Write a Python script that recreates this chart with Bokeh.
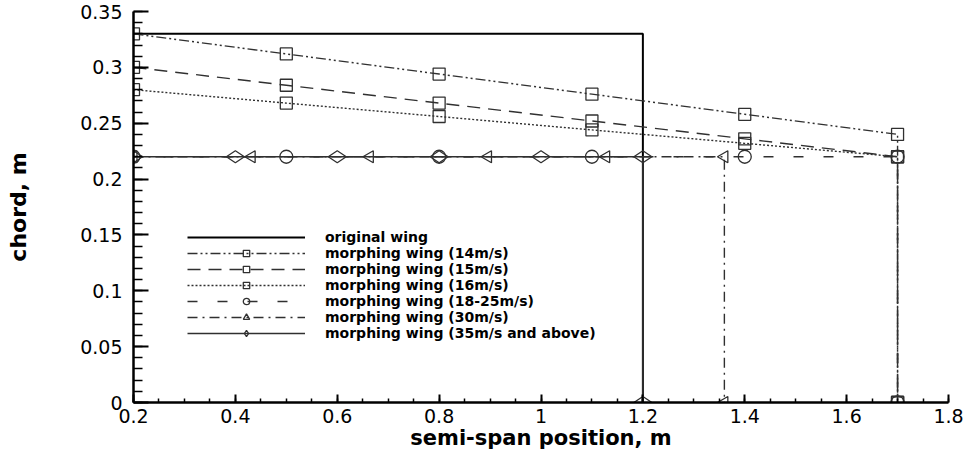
import math
from bokeh.plotting import figure
from bokeh.models import Range1d, FixedTicker, Legend, LegendItem
from bokeh.embed import file_html
from bokeh.resources import INLINE

# ---- data ----
x_orig = [0.2, 1.2, 1.2]
c_orig = [0.33, 0.33, 0.0]

x_14 = [0.2, 0.5, 0.8, 1.1, 1.4, 1.7, 1.7]
c_14 = [0.33, 0.312, 0.294, 0.276, 0.258, 0.24, 0.0]

x_15 = [0.2, 0.5, 0.8, 1.1, 1.4, 1.7, 1.7]
c_15 = [0.30, 0.284, 0.268, 0.252, 0.236, 0.22, 0.0]

x_16 = [0.2, 0.5, 0.8, 1.1, 1.4, 1.7, 1.7]
c_16 = [0.28, 0.268, 0.256, 0.244, 0.232, 0.22, 0.0]

x_18 = [0.2, 0.5, 0.8, 1.1, 1.4, 1.7, 1.7]
c_18 = [0.22, 0.22, 0.22, 0.22, 0.22, 0.22, 0.0]

x_30 = [0.2, 0.432, 0.664, 0.896, 1.128, 1.36, 1.36]
c_30 = [0.22, 0.22, 0.22, 0.22, 0.22, 0.22, 0.0]

x_35 = [0.2, 0.4, 0.6, 0.8, 1.0, 1.2, 1.2]
c_35 = [0.22, 0.22, 0.22, 0.22, 0.22, 0.22, 0.0]

labels = [
    "original wing",
    "morphing wing (14m/s)",
    "morphing wing (15m/s)",
    "morphing wing (16m/s)",
    "morphing wing (18-25m/s)",
    "morphing wing (30m/s)",
    "morphing wing (35m/s and above)",
]

x_ticks = [0.2, 0.4, 0.6, 0.8, 1.0, 1.2, 1.4, 1.6, 1.8]
x_tick_labels = ["0.2", "0.4", "0.6", "0.8", "1", "1.2", "1.4", "1.6", "1.8"]
y_ticks = [0.0, 0.05, 0.1, 0.15, 0.2, 0.25, 0.3, 0.35]
y_tick_labels = ["0", "0.05", "0.1", "0.15", "0.2", "0.25", "0.3", "0.35"]

# ---- figure ----
p = figure(width=972, height=456, output_backend="svg", toolbar_location=None,
           x_range=Range1d(0.2, 1.8), y_range=Range1d(0, 0.35),
           min_border_left=133, min_border_right=24, min_border_top=11,
           min_border_bottom=54)
p.outline_line_color = None
p.xgrid.visible = False
p.ygrid.visible = False
p.background_fill_color = "white"
p.border_fill_color = "white"

ink = "#303030"

# x axis
xa = p.xaxis[0]
xa.ticker = FixedTicker(ticks=x_ticks,
                        minor_ticks=[round(0.2 + 0.05 * i, 3) for i in range(33)])
xa.major_label_overrides = {t: l for t, l in zip(x_ticks, x_tick_labels)}
xa.axis_label = "semi-span position, m"
xa.axis_label_text_font = "DejaVu Sans"
xa.axis_label_text_font_style = "bold"
xa.axis_label_text_font_size = "21px"
xa.axis_label_text_color = "black"
xa.axis_label_standoff = 0
xa.major_label_text_font = "DejaVu Sans"
xa.major_label_text_font_size = "19px"
xa.major_label_text_color = "black"
xa.major_label_standoff = 6
xa.major_tick_in = 8
xa.major_tick_out = 0
xa.minor_tick_in = 4
xa.minor_tick_out = 0
xa.axis_line_width = 2.5
xa.major_tick_line_width = 2
xa.minor_tick_line_width = 1.5
xa.axis_line_color = "black"
xa.major_tick_line_color = "black"
xa.minor_tick_line_color = "black"

# y axis
ya = p.yaxis[0]
ya.ticker = FixedTicker(ticks=y_ticks,
                        minor_ticks=[round(0.01 * i, 3) for i in range(36)])
ya.major_label_overrides = {t: l for t, l in zip(y_ticks, y_tick_labels)}
ya.axis_label = "chord, m"
ya.axis_label_text_font = "DejaVu Sans"
ya.axis_label_text_font_style = "bold"
ya.axis_label_text_font_size = "22px"
ya.axis_label_text_color = "black"
ya.axis_label_standoff = 46
ya.major_label_text_font = "DejaVu Sans"
ya.major_label_text_font_size = "19px"
ya.major_label_text_color = "black"
ya.major_label_standoff = 11
ya.major_tick_in = 15
ya.major_tick_out = 0
ya.minor_tick_in = 9
ya.minor_tick_out = 0
ya.axis_line_width = 2.5
ya.major_tick_line_width = 2
ya.minor_tick_line_width = 1.5
ya.axis_line_color = "black"
ya.major_tick_line_color = "black"
ya.minor_tick_line_color = "black"

# ---- series ----
items = []

r = p.line(x_orig, c_orig, line_color="black", line_width=2)
items.append(LegendItem(label=labels[0], renderers=[r]))

series = [
    (x_14, c_14, "10 3 2 3 2 3", "square", 12, 0.0),
    (x_15, c_15, "13 8", "square", 12, 0.0),
    (x_16, c_16, "2 2", "square", 12, 0.0),
    (x_18, c_18, "10 20", "circle", 13, 0.0),
    (x_30, c_30, "10 5 2 5", "triangle", 12, math.pi / 2),
    (x_35, c_35, None, "diamond", 18, math.pi / 2),
]

for (xs, cs, dash, mk, sz, ang), lab in zip(series, labels[1:]):
    if dash:
        lr = p.line(xs, cs, line_color=ink, line_width=1.4, line_dash=dash)
    else:
        lr = p.line(xs, cs, line_color=ink, line_width=1.6)
    mr = p.scatter(xs, cs, marker=mk, size=sz, angle=ang,
                   line_color=ink, line_width=1.3, fill_color=None)
    items.append(LegendItem(label=lab, renderers=[lr, mr]))

legend = Legend(items=items, location=(54, 61))
legend.padding = 0
legend.margin = 0
legend.spacing = 0
legend.border_line_color = None
legend.background_fill_alpha = 0
legend.glyph_width = 118
legend.glyph_height = 16
legend.label_height = 16
legend.label_standoff = 20
legend.label_text_font = "DejaVu Sans"
legend.label_text_font_style = "bold"
legend.label_text_font_size = "14px"
legend.label_text_color = "black"
legend.label_text_baseline = "middle"
p.add_layout(legend, "center")

open("out.html", "w").write(file_html(p, INLINE))
